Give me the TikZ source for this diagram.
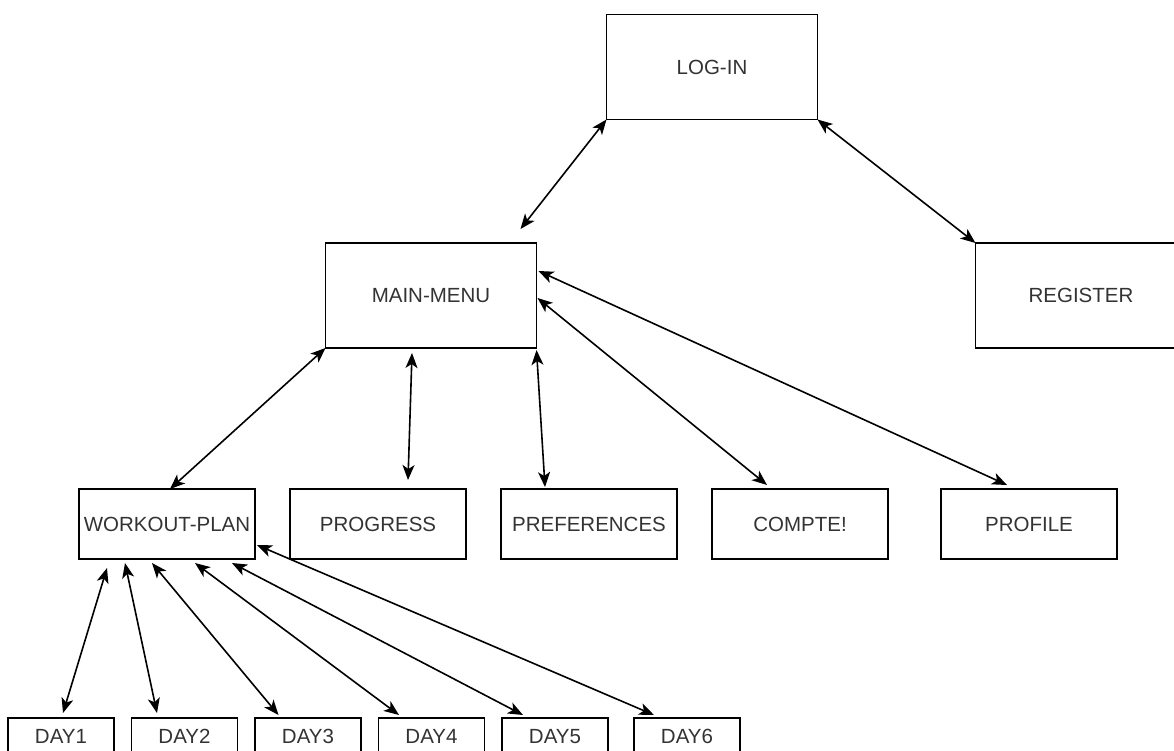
\documentclass[tikz,border=0pt]{standalone}
\usepackage{fontspec}
\setmainfont{Liberation Sans}
\usepackage{xcolor}
\usetikzlibrary{arrows.meta,positioning}
\definecolor{labelgray}{HTML}{333333}

\begin{document}
\begin{tikzpicture}[
    x=1pt, y=-1pt,
    node distance=35pt,
    box/.style={draw, line width=1.6pt, inner sep=0pt, outer sep=0pt, minimum width=176pt, minimum height=70pt, text height=14.7pt, text depth=0pt, font=\fontsize{20.5}{24}\selectfont, text=labelgray},
    bigbox/.style={box, minimum width=211pt, minimum height=105pt},
    daybox/.style={box, minimum width=106pt, minimum height=36pt},
    arrow/.style={<->, >={Stealth[length=15pt,width=12pt,inset=4pt]}, line width=1.6pt}
]
    \useasboundingbox (0,0) rectangle (1174,750);
    \clip (0,0) rectangle (1174,750);

    \node[bigbox] (login) at (712,67) {LOG-IN};
    \node[bigbox] (mainmenu) at (431,295.5) {MAIN-MENU};
    \node[bigbox] (register) at (1081,295.5) {REGISTER};

    \node[box] (workout) at (167,524) {WORKOUT-PLAN};
    \node[box, right=of workout] (progress) {PROGRESS};
    \node[box, right=of progress] (preferences) {PREFERENCES};
    \node[box, right=of preferences] (compte) {COMPTE!};
    \node[box, right=53pt of compte] (profile) {PROFILE};

    \node[daybox] (day1) at (61,736) {DAY1};
    \node[daybox, right=17.5pt of day1] (day2) {DAY2};
    \node[daybox, right=17.5pt of day2] (day3) {DAY3};
    \node[daybox, right=17.5pt of day3] (day4) {DAY4};
    \node[daybox, right=17.5pt of day4] (day5) {DAY5};
    \node[daybox, right=26pt of day5] (day6) {DAY6};

    \draw[arrow] (login.south west) -- ([xshift=-16pt,yshift=14pt]mainmenu.north east);
    \draw[arrow] (login.south east) -- (register.north west);

    \draw[arrow] (mainmenu.south west) -- ([xshift=3pt]workout.north);
    \draw[arrow] ([xshift=-19pt,yshift=-5pt]mainmenu.south) -- ([xshift=30pt,yshift=9pt]progress.north);
    \draw[arrow] ([yshift=-2pt]mainmenu.south east) -- ([xshift=-44pt,yshift=2pt]preferences.north);
    \draw[arrow] ([xshift=1pt,yshift=-2.5pt]mainmenu.east) -- ([xshift=-33pt,yshift=4pt]compte.north);
    \draw[arrow] ([xshift=2pt,yshift=24.5pt]mainmenu.east) -- ([xshift=-22pt,yshift=4pt]profile.north);

    \draw[arrow] ([xshift=28pt,yshift=-9pt]workout.south west) -- ([xshift=2pt,yshift=5pt]day1.north);
    \draw[arrow] ([xshift=46pt,yshift=-4pt]workout.south west) -- ([xshift=-27.5pt,yshift=5pt]day2.north);
    \draw[arrow] ([xshift=73pt,yshift=-4pt]workout.south west) -- ([xshift=-29.5pt,yshift=3pt]day3.north);
    \draw[arrow] ([xshift=116pt,yshift=-4pt]workout.south west) -- ([xshift=-32.5pt,yshift=3pt]day4.north);
    \draw[arrow] ([xshift=153pt,yshift=-4pt]workout.south west) -- ([xshift=-32pt,yshift=3pt]day5.north);
    \draw[arrow] ([xshift=2pt,yshift=-21pt]workout.east) -- ([xshift=-33pt,yshift=3pt]day6.north);
\end{tikzpicture}
\end{document}
